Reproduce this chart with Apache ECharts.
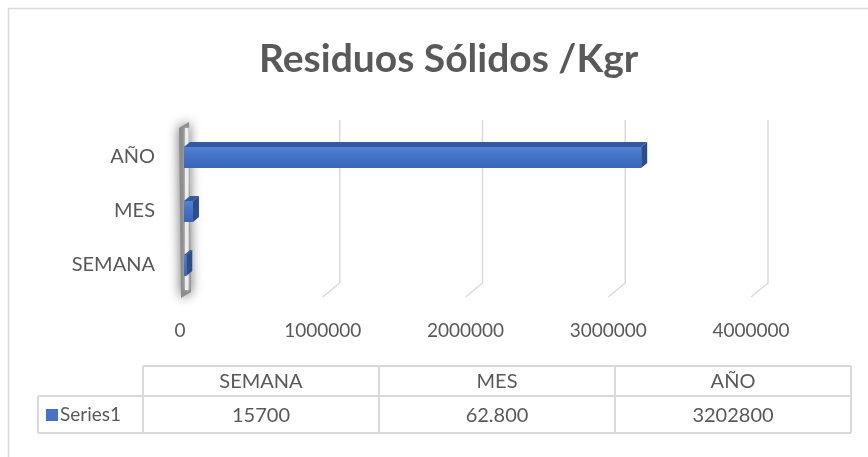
<!DOCTYPE html>
<html>
<head>
<meta charset="utf-8">
<script src="https://cdn.jsdelivr.net/npm/echarts@6/dist/echarts.min.js"></script>
<style>html,body{margin:0;padding:0;background:#fff;}#c{width:868px;height:457px;}</style>
</head>
<body>
<div id="c"></div>
<script>
const categories = ['SEMANA', 'MES', 'AÑO'];
const values = [15700, 62800, 3202800];
const tableLabels = ['15700', '62.800', '3202800'];
const seriesName = 'Series1';
const gridTicks = [1000000, 2000000, 3000000, 4000000];
const titleText = 'Residuos Sólidos /Kgr';

const TXT = '#595959';
const LINE = '#d9d9d9';
const FONT = 'Lato';

const chart = echarts.init(document.getElementById('c'), null, {renderer: 'canvas'});

// data table graphics
const colX = [143, 379, 615, 851];
const rowY = [366, 396, 433];
const table = [];
table.push({type: 'line', shape: {x1: colX[0], y1: rowY[0], x2: colX[3], y2: rowY[0]}, style: {stroke: LINE, lineWidth: 2}});
table.push({type: 'line', shape: {x1: 38, y1: rowY[1], x2: colX[3], y2: rowY[1]}, style: {stroke: LINE, lineWidth: 2}});
table.push({type: 'line', shape: {x1: 38, y1: rowY[2], x2: colX[3], y2: rowY[2]}, style: {stroke: LINE, lineWidth: 2}});
table.push({type: 'line', shape: {x1: 38, y1: rowY[1], x2: 38, y2: rowY[2]}, style: {stroke: LINE, lineWidth: 2}});
colX.forEach(x => table.push({type: 'line', shape: {x1: x, y1: rowY[0], x2: x, y2: rowY[2]}, style: {stroke: LINE, lineWidth: 2}}));
categories.forEach((c, i) => {
  const cx = (colX[i] + colX[i + 1]) / 2;
  table.push({type: 'text', x: cx, y: (rowY[0] + rowY[1]) / 2 + 1, style: {text: c, fill: TXT, font: '20px ' + FONT, textAlign: 'center', textVerticalAlign: 'middle'}});
  table.push({type: 'text', x: cx, y: (rowY[1] + rowY[2]) / 2 + 1, style: {text: tableLabels[i], fill: TXT, font: '20px ' + FONT, textAlign: 'center', textVerticalAlign: 'middle'}});
});
table.push({type: 'rect', shape: {x: 46, y: 409, width: 12, height: 12}, style: {fill: '#4472C4'}});
table.push({type: 'text', x: 60, y: 415, style: {text: seriesName, fill: TXT, font: '19px ' + FONT, textAlign: 'left', textVerticalAlign: 'middle'}});

// chart border + side wall
const deco = [
  {type: 'rect', shape: {x: 8.5, y: 8.5, width: 900, height: 500}, style: {fill: 'none', stroke: LINE, lineWidth: 1.5}, z: -10},
  {type: 'polygon', shape: {points: [[179, 128], [189, 122], [191, 292], [181, 298]]}, style: {fill: '#8c8c8c', shadowBlur: 12, shadowColor: 'rgba(0,0,0,0.6)'}, z: -5},
  {type: 'rect', shape: {x: 185, y: 128, width: 3.5, height: 162}, style: {fill: '#ececec', shadowBlur: 3, shadowColor: 'rgba(255,255,255,0.8)'}, z: -4}
];

const option = {
  animation: false,
  backgroundColor: '#fff',
  title: {
    text: titleText, left: 254, top: 35,
    textStyle: {color: TXT, fontFamily: FONT, fontWeight: 'bold', fontSize: 39}
  },
  grid: [
    {left: 184, right: 113, top: 130, bottom: 165},
    {left: 197, right: 100, top: 120, bottom: 174}
  ],
  xAxis: [
    {type: 'value', gridIndex: 0, min: 0, max: 4000000, interval: 1000000,
     axisLine: {show: false}, axisTick: {show: false}, splitLine: {show: false},
     axisLabel: {color: TXT, fontFamily: FONT, fontSize: 19, margin: 29, padding: [0, 8, 0, 0],
                 formatter: v => String(v)}},
    {type: 'value', gridIndex: 1, min: 0, max: 4000000, interval: 1000000, show: false}
  ],
  yAxis: [
    {type: 'category', gridIndex: 0, data: categories,
     axisLine: {show: false}, axisTick: {show: false}, splitLine: {show: false},
     axisLabel: {color: TXT, fontFamily: FONT, fontSize: 20, margin: 29, padding: [14, 0, 0, 0]}},
    {type: 'value', gridIndex: 1, min: 0, max: 1, show: false}
  ],
  series: [
    {
      type: 'custom', xAxisIndex: 1, yAxisIndex: 1, z: 1, silent: true,
      data: gridTicks.map(t => [t]),
      renderItem: function (params, api) {
        const t = api.value(0);
        const top = api.coord([t, 1]);
        const bot = api.coord([t, 0]);
        return {
          type: 'polyline',
          shape: {points: [[top[0], top[1]], [bot[0], bot[1]], [bot[0] - 17, bot[1] + 14]]},
          style: {stroke: LINE, lineWidth: 1.5, fill: null}
        };
      }
    },
    {
      type: 'custom', name: seriesName, xAxisIndex: 0, yAxisIndex: 0, z: 3,
      data: values.map((v, i) => [v, i]),
      encode: {x: 0, y: 1},
      renderItem: function (params, api) {
        const v = api.value(0), c = api.value(1);
        const p0 = api.coord([0, c]);
        const p1 = api.coord([v, c]);
        const cy = p0[1];
        const x0 = p0[0], x1 = p1[0];
        const dx = 6, dy = 5, up = 10, dn = 11;
        return {
          type: 'group',
          children: [
            {type: 'polygon', shape: {points: [[x0, cy - up], [x1, cy - up], [x1 + dx, cy - up - dy], [x0 + dx, cy - up - dy]]},
             style: {fill: '#35589e'}},
            {type: 'rect', shape: {x: x0, y: cy - up, width: x1 - x0, height: up + dn},
             style: {fill: new echarts.graphic.LinearGradient(0, 0, 0, 1, [
               {offset: 0, color: '#5283d6'}, {offset: 0.45, color: '#4472c4'}, {offset: 1, color: '#3865b8'}])}},
            {type: 'polygon', shape: {points: [[x1, cy - up], [x1 + dx, cy - up - dy], [x1 + dx, cy + dn - dy], [x1, cy + dn]]},
             style: {fill: '#2c4c8c'}}
          ]
        };
      }
    }
  ],
  graphic: deco.concat(table)
};
chart.setOption(option);
</script>
</body>
</html>
